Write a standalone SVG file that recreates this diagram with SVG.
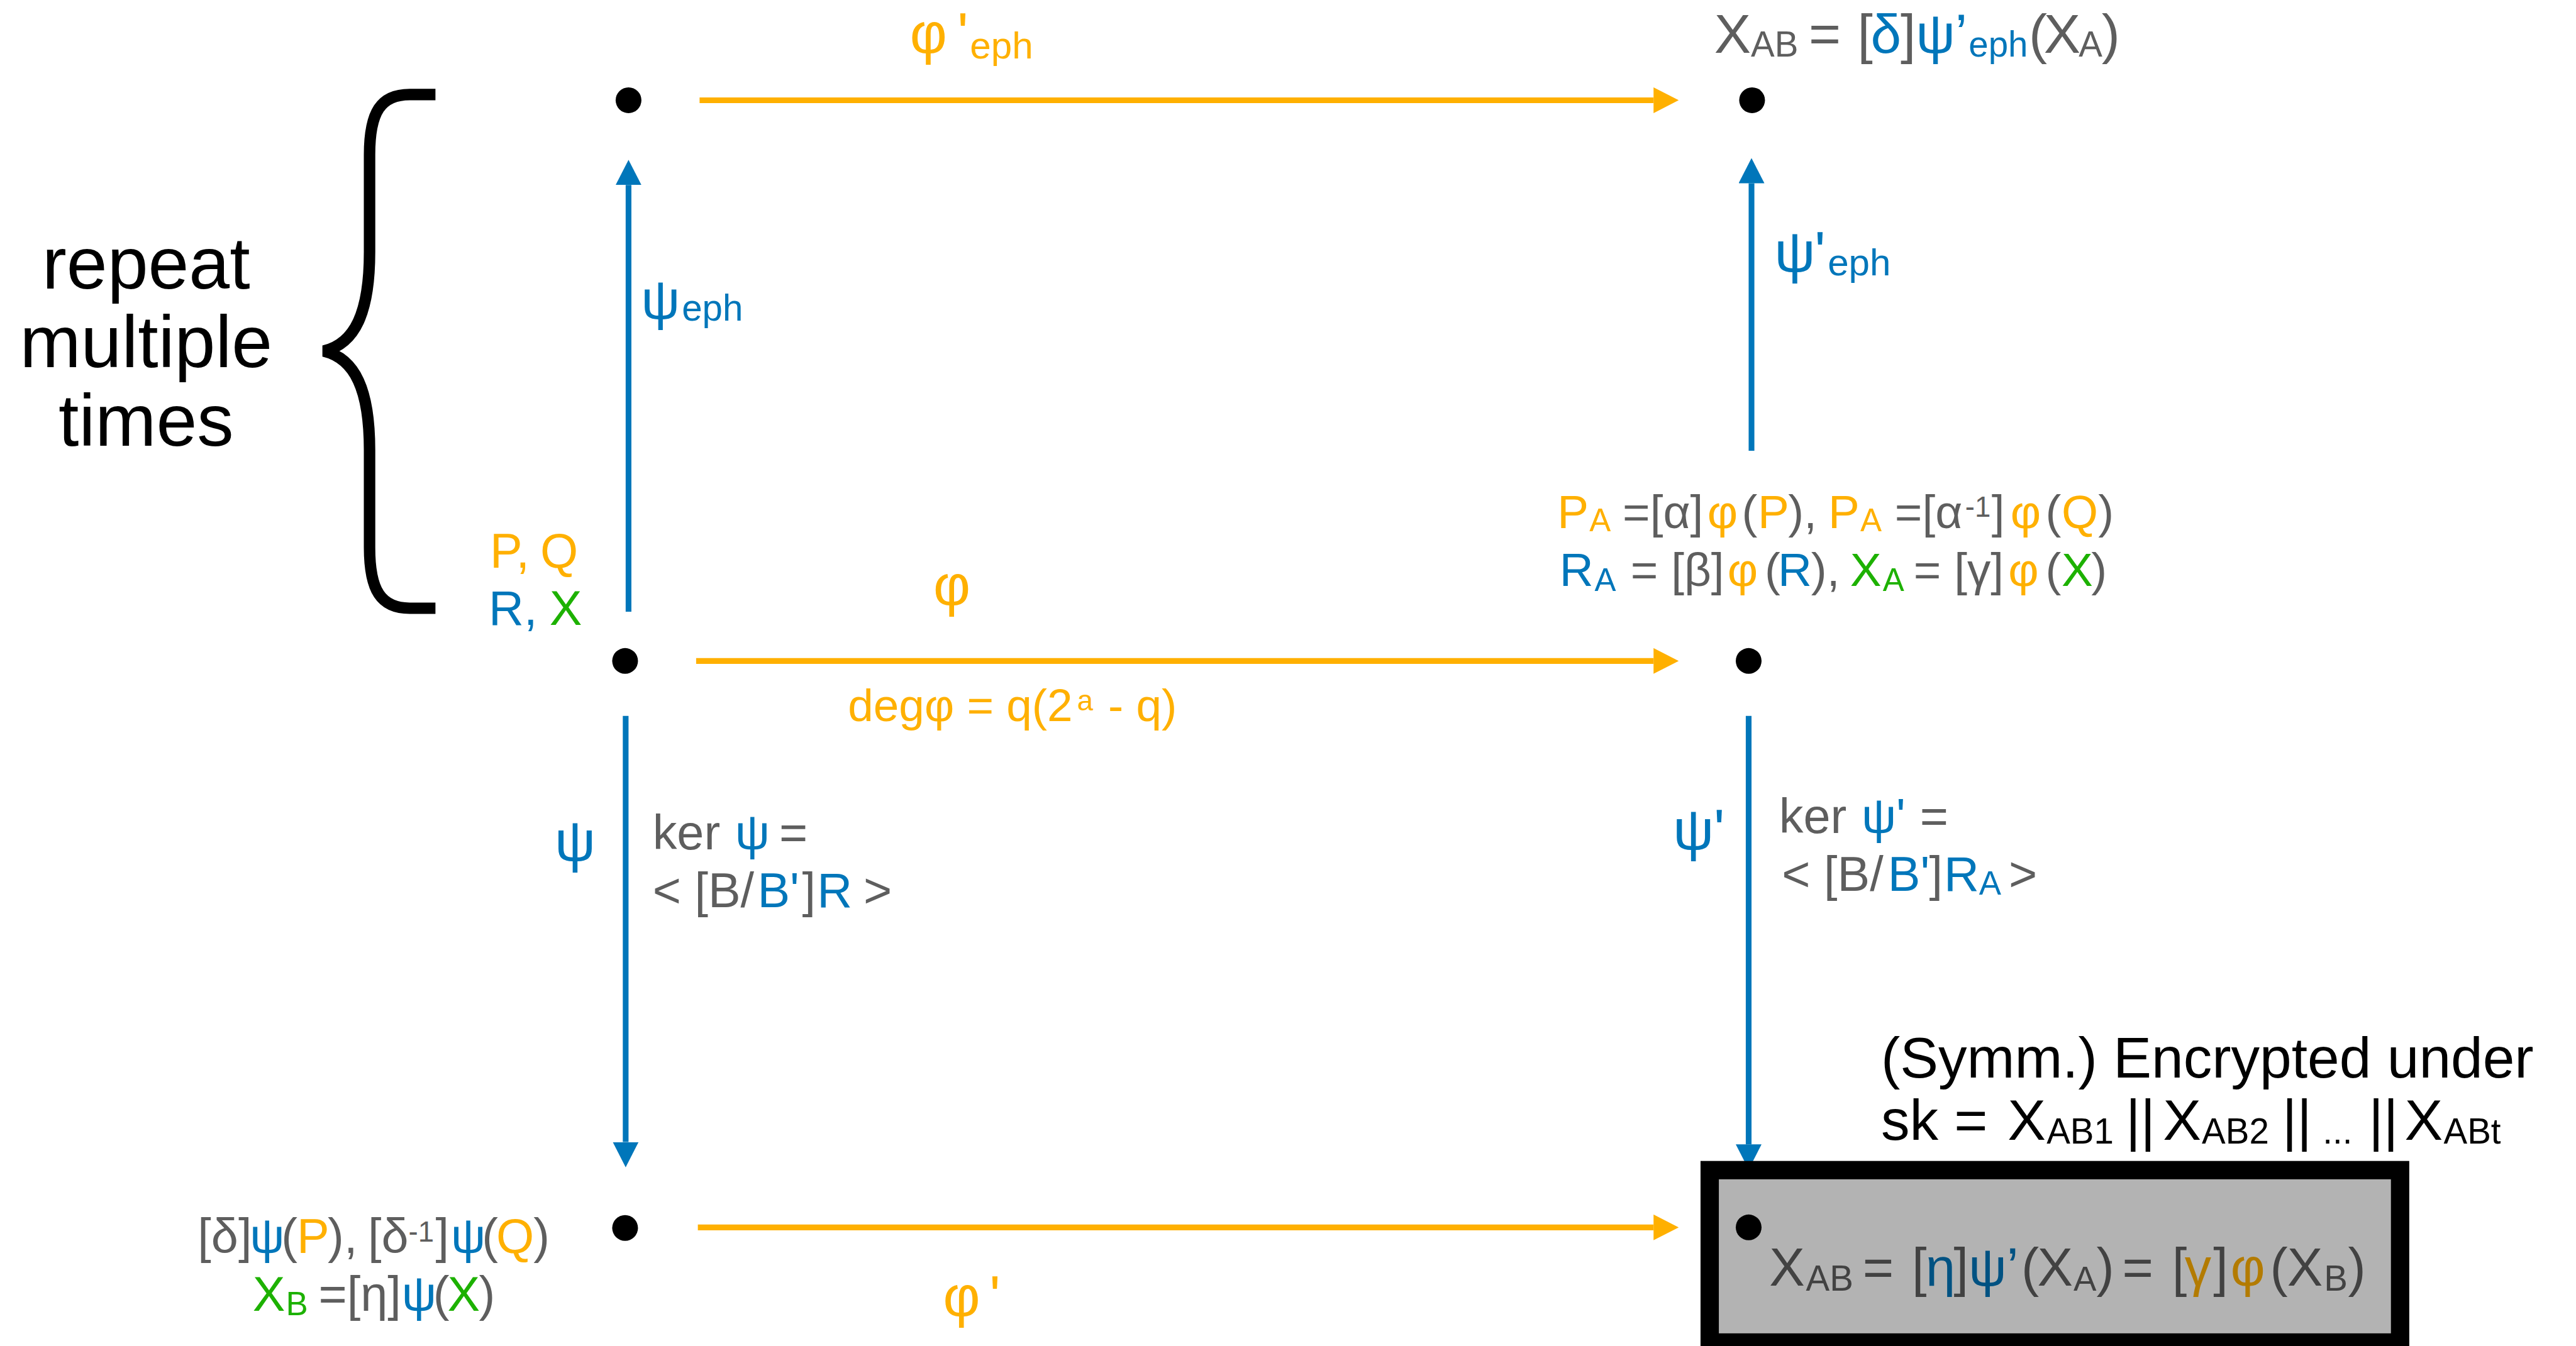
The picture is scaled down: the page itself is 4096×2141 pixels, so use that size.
<svg xmlns="http://www.w3.org/2000/svg" width="4096" height="2141" viewBox="0 0 4096 2141">
<defs>
<style>
text{font-family:"Liberation Sans",Arial,Helvetica,sans-serif}
.g{fill:#5E5E5E}.b{fill:#0076BA}.o{fill:#FFB000}.gr{fill:#1DB100}.k{fill:#000}
.gd{fill:#424242}.bd{fill:#005282}.od{fill:#B37B00}
.dot{fill:#000}
.eo{stroke:#FFB000;stroke-width:10;fill:none}
.eb{stroke:#0076BA;stroke-width:10;fill:none}
.L{font-size:100px}.M{font-size:85px}.N{font-size:82px}
</style>
<marker id="ao" markerUnits="userSpaceOnUse" viewBox="0 0 44 45" refX="0" refY="22.5" markerWidth="44" markerHeight="45" orient="auto"><path d="M0,0 L44,22.5 L0,45 Z" fill="#FFB000"/></marker>
<marker id="ab" markerUnits="userSpaceOnUse" viewBox="0 0 44 45" refX="0" refY="22.5" markerWidth="44" markerHeight="45" orient="auto"><path d="M0,0 L44,22.5 L0,45 Z" fill="#0076BA"/></marker>
</defs>
<rect width="4096" height="2141" fill="#fff"/>
<g transform="scale(0.91103)">

<g id="connectors">
  <path id="e-phi-eph" class="eo" d="M1221,175 H2886" marker-end="url(#ao)"/>
  <path id="e-phi" class="eo" d="M1215,1154 H2886" marker-end="url(#ao)"/>
  <path id="e-phi-prime" class="eo" d="M1218,2143 H2886" marker-end="url(#ao)"/>
  <path id="e-psi-eph" class="eb" d="M1097,1068 V323" marker-end="url(#ab)"/>
  <path id="e-psi-prime-eph" class="eb" d="M3057,787 V320" marker-end="url(#ab)"/>
  <path id="e-psi" class="eb" d="M1092,1250 V1994" marker-end="url(#ab)"/>
  <path id="e-psi-prime" class="eb" d="M3052,1250 V1998" marker-end="url(#ab)"/>

  <text class="o"><tspan class="L" x="1588" y="92">φ</tspan><tspan class="L" x="1671" y="92">'</tspan><tspan x="1693" y="102" font-size="66">eph</tspan></text>
  <text class="b"><tspan x="1119" y="556" font-size="95">ψ</tspan><tspan x="1190" y="560" font-size="64">eph</tspan></text>
  <text class="b"><tspan class="L" x="3097" y="474">ψ</tspan><tspan class="L" x="3167" y="474">'</tspan><tspan x="3190" y="481" font-size="66">eph</tspan></text>
  <text class="o L" x="1629" y="1056">φ</text>
  <text class="o" font-size="80"><tspan x="1480" y="1259">degφ = q(2</tspan><tspan x="1880" y="1240" font-size="50">a</tspan><tspan x="1934" y="1259">- q)</tspan></text>
  <text class="b L" x="968" y="1503">ψ</text>
  <text class="M"><tspan class="g" x="1139" y="1483">ker</tspan><tspan class="b" x="1283" y="1483">ψ</tspan><tspan class="g" x="1360" y="1483">=</tspan><tspan class="g" x="1139" y="1584">&lt; [B/</tspan><tspan class="b" x="1322" y="1584">B'</tspan><tspan class="g" x="1400" y="1584">]</tspan><tspan class="b" x="1426" y="1584">R</tspan><tspan class="g" x="1507" y="1584">&gt;</tspan></text>
  <text class="b L"><tspan x="2920" y="1483">ψ</tspan><tspan x="2991" y="1483">'</tspan></text>
  <text class="M"><tspan class="g" x="3105" y="1454">ker</tspan><tspan class="b" x="3249" y="1454">ψ'</tspan><tspan class="g" x="3351" y="1454">=</tspan><tspan class="g" x="3110" y="1555">&lt; [B/</tspan><tspan class="b" x="3295" y="1555">B'</tspan><tspan class="g" x="3367" y="1555">]</tspan><tspan class="b" x="3393" y="1555">R</tspan><tspan class="b" x="3454" y="1562" font-size="58">A</tspan><tspan class="g" x="3506" y="1555">&gt;</tspan></text>
  <text class="o L"><tspan x="1646" y="2297">φ</tspan><tspan x="1727" y="2297">'</tspan></text>
</g>

<g id="repeat-bracket">
  <path d="M760,165 H715 C665,165 645,195 645,270 V440 C645,545 620,600 565,613 C620,626 645,681 645,786 V956 C645,1031 665,1062 715,1062 H760" fill="none" stroke="#000" stroke-width="20"/>
  <text class="k" font-size="128" text-anchor="middle"><tspan x="255" y="504">repeat</tspan><tspan x="255" y="641">multiple</tspan><tspan x="255" y="778">times</tspan></text>
</g>

<g id="node-top-left">
  <circle class="dot" cx="1097" cy="175" r="22.5"/>
</g>

<g id="node-top-right">
  <circle class="dot" cx="3058" cy="175" r="22.5"/>
  <text font-size="96"><tspan class="g" x="2992" y="92">X</tspan><tspan class="g" x="3056" y="99" font-size="62">AB</tspan><tspan class="g" x="3157" y="92">=</tspan><tspan class="g" x="3242" y="92">[</tspan><tspan class="b" x="3265" y="92">δ</tspan><tspan class="g" x="3317" y="92">]</tspan><tspan class="b" x="3344" y="92">ψ’</tspan><tspan class="b" x="3436" y="99" font-size="62">eph</tspan><tspan class="g" x="3541" y="92">(</tspan><tspan class="g" x="3567" y="92">X</tspan><tspan class="g" x="3628" y="99" font-size="62">A</tspan><tspan class="g" x="3668" y="92">)</tspan></text>
</g>

<g id="node-mid-left">
  <circle class="dot" cx="1091" cy="1154" r="22.5"/>
  <text class="M"><tspan class="o" x="855" y="991">P,</tspan><tspan class="o" x="943" y="991">Q</tspan><tspan class="b" x="853" y="1091">R,</tspan><tspan class="gr" x="959" y="1091">X</tspan></text>
</g>

<g id="node-mid-right">
  <circle class="dot" cx="3052" cy="1154" r="22.5"/>
  <text class="N"><tspan class="o" x="2718" y="922">P</tspan><tspan class="o" x="2774" y="928" font-size="56">A</tspan><tspan class="g" x="2832" y="922">=[α]</tspan><tspan class="o" x="2980" y="922">φ</tspan><tspan class="g" x="3040" y="922">(</tspan><tspan class="o" x="3068" y="922">P</tspan><tspan class="g" x="3121" y="922">),</tspan><tspan class="o" x="3191" y="922">P</tspan><tspan class="o" x="3247" y="928" font-size="56">A</tspan><tspan class="g" x="3307" y="922">=[α</tspan><tspan class="g" x="3430" y="902" font-size="50">-1</tspan><tspan class="g" x="3476" y="922">]</tspan><tspan class="o" x="3509" y="922">φ</tspan><tspan class="g" x="3570" y="922">(</tspan><tspan class="o" x="3598" y="922">Q</tspan><tspan class="g" x="3662" y="922">)</tspan></text>
  <text class="N"><tspan class="b" x="2722" y="1023">R</tspan><tspan class="b" x="2783" y="1032" font-size="56">A</tspan><tspan class="g" x="2846" y="1023">= [β]</tspan><tspan class="o" x="3015" y="1023">φ</tspan><tspan class="g" x="3080" y="1023">(</tspan><tspan class="b" x="3103" y="1023">R</tspan><tspan class="g" x="3161" y="1023">),</tspan><tspan class="gr" x="3229" y="1023">X</tspan><tspan class="gr" x="3286" y="1032" font-size="56">A</tspan><tspan class="g" x="3340" y="1023">= [γ]</tspan><tspan class="o" x="3505" y="1023">φ</tspan><tspan class="g" x="3570" y="1023">(</tspan><tspan class="gr" x="3598" y="1023">X</tspan><tspan class="g" x="3650" y="1023">)</tspan></text>
</g>

<g id="node-bottom-left">
  <circle class="dot" cx="1091" cy="2144" r="22.5"/>
  <text class="M"><tspan class="g" x="345" y="2188">[δ]</tspan><tspan class="b" x="436" y="2188">ψ</tspan><tspan class="g" x="491" y="2188">(</tspan><tspan class="o" x="518" y="2188">P</tspan><tspan class="g" x="572" y="2188">),</tspan><tspan class="g" x="642" y="2188">[δ</tspan><tspan class="g" x="713" y="2168" font-size="50">-1</tspan><tspan class="g" x="760" y="2188">]</tspan><tspan class="b" x="787" y="2188">ψ</tspan><tspan class="g" x="841" y="2188">(</tspan><tspan class="o" x="866" y="2188">Q</tspan><tspan class="g" x="931" y="2188">)</tspan></text>
  <text class="M"><tspan class="gr" x="441" y="2289">X</tspan><tspan class="gr" x="499" y="2296" font-size="58">B</tspan><tspan class="g" x="556" y="2289">=[η]</tspan><tspan class="b" x="701" y="2289">ψ</tspan><tspan class="g" x="756" y="2289">(</tspan><tspan class="gr" x="781" y="2289">X</tspan><tspan class="g" x="836" y="2289">)</tspan></text>
</g>

<g id="node-bottom-right">
  <text class="k L"><tspan x="3283" y="1881">(Symm.) Encrypted under</tspan></text>
  <text class="k L"><tspan x="3283" y="1990">sk =</tspan><tspan x="3504" y="1990">X</tspan><tspan x="3572" y="1997" font-size="62">AB1</tspan><tspan x="3710" y="1990">||</tspan><tspan x="3775" y="1990">X</tspan><tspan x="3843" y="1997" font-size="62">AB2</tspan><tspan x="3983" y="1990">||</tspan><tspan x="4054" y="1997" font-size="62">...</tspan><tspan x="4134" y="1990">||</tspan><tspan x="4197" y="1990">X</tspan><tspan x="4265" y="1997" font-size="62">ABt</tspan></text>
  <rect x="2984" y="2043" width="1205" height="301" fill="#B3B3B3" stroke="#000" stroke-width="32"/>
  <circle class="dot" cx="3052" cy="2143" r="22.5"/>
  <text font-size="93"><tspan class="gd" x="3088" y="2245">X</tspan><tspan class="gd" x="3152" y="2253" font-size="62">AB</tspan><tspan class="gd" x="3251" y="2245">=</tspan><tspan class="gd" x="3337" y="2245">[</tspan><tspan class="bd" x="3361" y="2245">η</tspan><tspan class="gd" x="3410" y="2245">]</tspan><tspan class="bd" x="3436" y="2245">ψ’</tspan><tspan class="gd" x="3528" y="2245">(</tspan><tspan class="gd" x="3556" y="2245">X</tspan><tspan class="gd" x="3619" y="2253" font-size="60">A</tspan><tspan class="gd" x="3659" y="2245">)</tspan><tspan class="gd" x="3704" y="2245">=</tspan><tspan class="gd" x="3791" y="2245">[</tspan><tspan class="od" x="3813" y="2245">γ</tspan><tspan class="gd" x="3863" y="2245">]</tspan><tspan class="od" x="3893" y="2245">φ</tspan><tspan class="gd" x="3962" y="2245">(</tspan><tspan class="gd" x="3992" y="2245">X</tspan><tspan class="gd" x="4056" y="2253" font-size="62">B</tspan><tspan class="gd" x="4098" y="2245">)</tspan></text>
</g>

</g>
</svg>
